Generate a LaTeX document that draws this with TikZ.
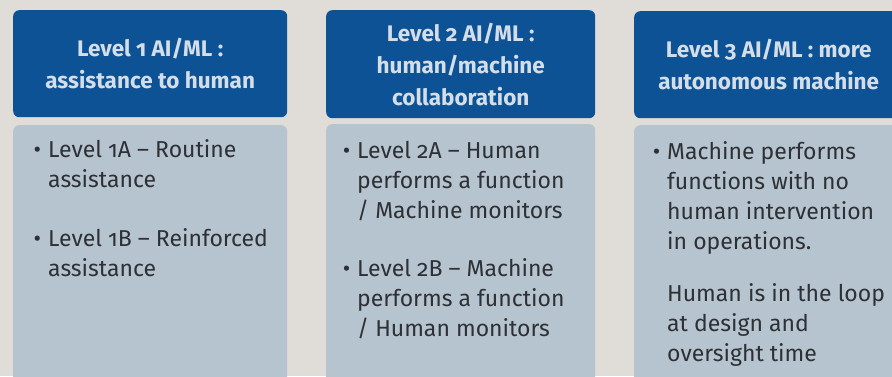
\documentclass[tikz,border=0pt]{standalone}
\usepackage{fontspec}
\setmainfont{Fira Sans}[Numbers=OldStyle]
\definecolor{pagebg}{RGB}{224,220,216}
\definecolor{headblue}{RGB}{14,82,150}
\definecolor{headtext}{RGB}{212,222,232}
\definecolor{bodyfill}{RGB}{182,196,208}
\definecolor{bodytext}{RGB}{45,48,52}
\tikzset{
  headbox/.style={fill=headblue, rounded corners=6pt, anchor=north west, inner sep=0pt},
  headlabel/.style={text=headtext, font=\fontsize{22.5}{32}\selectfont\bfseries, align=center},
  bodybox/.style={fill=bodyfill, rounded corners=6pt, anchor=north west, inner sep=0pt},
  bodylabel/.style={text=bodytext, font=\fontsize{23}{30}\selectfont, align=left, anchor=north west, inner sep=0pt},
}
\newcommand{\bul}{\makebox[0pt][r]{\textbullet\hspace{7pt}}}
\begin{document}
\begin{tikzpicture}[x=1pt,y=1pt]
  \fill[pagebg] (0,0) rectangle (892,376);
  \useasboundingbox (0,0) rectangle (892,376);

  % header boxes
  \node[headbox, minimum width=274pt, minimum height=107pt] (h1) at (13,366) {};
  \node[headbox, minimum width=269pt, minimum height=108pt] (h2) at (326,366) {};
  \node[headbox, minimum width=275pt, minimum height=107pt] (h3) at (634,365) {};

  % body boxes, running past the lower edge
  \node[bodybox, minimum width=274pt, minimum height=270pt] (b1) at (13,251) {};
  \node[bodybox, minimum width=269pt, minimum height=270pt] (b2) at (326,252) {};
  \node[bodybox, minimum width=275pt, minimum height=270pt] (b3) at (634,251) {};

  % header titles
  \node[headlabel] (ht1) at (h1.center) {Level 1 AI/ML :\\assistance to human};
  \node[headlabel] (ht2) at (h2.center) {Level 2 AI/ML :\\human/machine\\collaboration};
  \node[headlabel] (ht3) at ([xshift=-3pt]h3.center) {Level 3 AI/ML : more\\autonomous machine};

  % body texts
  \node[bodylabel] (bt1) at (48,237) {\bul Level 1A -- Routine\\assistance\\[29pt]\bul Level 1B -- Reinforced\\assistance};
  \node[bodylabel] (bt2) at (357,235) {\bul Level 2A -- Human\\performs a function\\/ Machine monitors\\[28pt]\bul Level 2B -- Machine\\performs a function\\/ Human monitors};
  \node[bodylabel] (bt3) at (667,235) {\bul Machine performs\\functions with no\\human intervention\\in operations.\\[22pt]Human is in the loop\\at design and\\oversight time};
\end{tikzpicture}
\end{document}
